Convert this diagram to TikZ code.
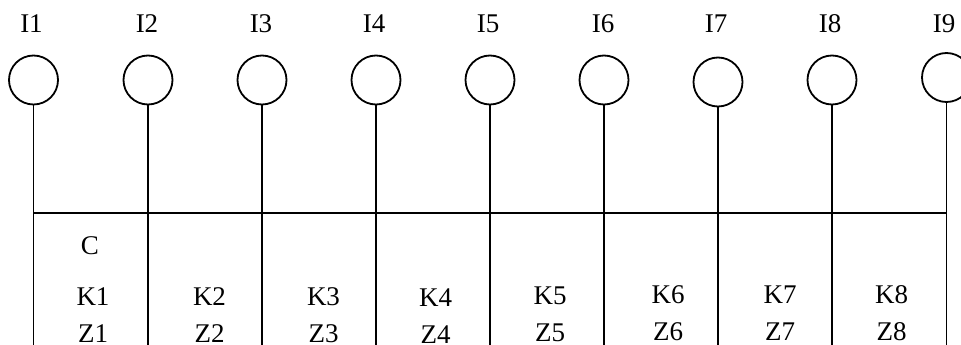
\documentclass[tikz,border=0pt]{standalone}
\usepackage{fontspec}
\setmainfont{Liberation Serif}
\begin{document}
\begin{tikzpicture}[x=1pt,y=-1pt,
  term/.style={circle,draw,line width=1.8pt,minimum size=49pt,inner sep=0pt},
  txt/.style={font=\fontsize{27}{30}\selectfont,inner sep=0pt,anchor=base},
  wire/.style={line width=1.8pt}]
\useasboundingbox (0,0) rectangle (961,345);

% input terminals: x of wire, y of circle centre, x of label
\foreach \i/\x/\cy/\lx in {1/33.5/80/31.5, 2/148/80/147, 3/262/80/261,
    4/376/80/374, 5/490/80/488, 6/604/80/603, 7/718/82/716,
    8/832/80/830, 9/946.5/77.5/944} {
  \node[txt] (l\i) at (\lx,33) {I\i};
  \node[term] (t\i) at (\x,\cy) {};
  \coordinate (b\i) at (\x,345);
  \coordinate (j\i) at (\x,213);
  \draw[wire] (t\i.south) -- (b\i);
}

% common bus
\draw[wire] (j1) -- (j9);

% cell labels
\node[txt] (c) at (90,254) {C};
\foreach \k/\x/\y in {1/93/305, 2/209.5/305, 3/323.5/305, 4/435.5/306.5,
    5/550/304, 6/668/303, 7/780/303, 8/891.5/303} {
  \node[txt] (k\k) at (\x,\y) {K\k};
  \node[txt] (z\k) at (\x,\y+37) {Z\k};
}
\end{tikzpicture}
\end{document}
